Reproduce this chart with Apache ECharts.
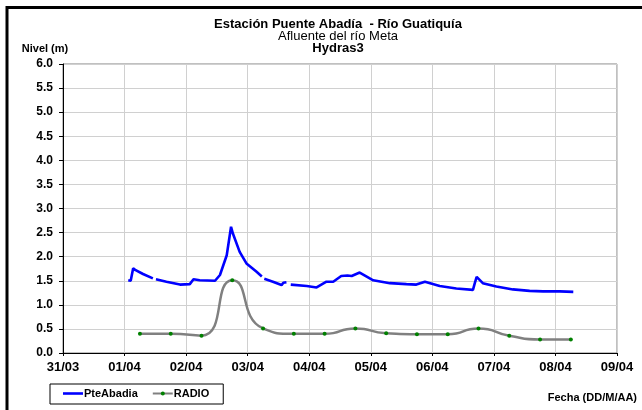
<!DOCTYPE html>
<html><head><meta charset="utf-8">
<script src="https://cdn.jsdelivr.net/npm/echarts@6/dist/echarts.min.js"></script>
<style>html,body{margin:0;padding:0;background:#fff}#c{width:642px;height:410px}</style>
</head><body><div id="c"></div>
<script>
const titleLines = ['Estación Puente Abadía  - Río Guatiquía', 'Afluente del río Meta', 'Hydras3'];
const yAxisName = 'Nivel (m)';
const xAxisName = 'Fecha (DD/M/AA)';
const dateLabels = ['31/03','01/04','02/04','03/04','04/04','05/04','06/04','07/04','08/04','09/04'];
const seriesNames = ['PteAbadia', 'RADIO'];
// days counted from 31/03 00:00 ; null = gap in the record
const pteDays = [1.06,1.10,1.12,1.14,1.18,1.30,1.46,null,1.51,1.68,1.90,2.06,2.12,2.22,2.47,2.55,2.66,2.73,2.76,2.87,2.98,3.14,3.23,null,3.27,3.41,3.55,3.58,3.63,null,3.70,3.96,4.12,4.28,4.39,4.52,4.62,4.69,4.82,5.04,5.31,5.58,5.74,5.88,6.12,6.39,6.66,6.69,6.72,6.82,7.04,7.31,7.58,7.80,8.07,8.29];
const pteLevels = [1.51,1.50,1.48,1.76,1.72,1.64,1.55,null,1.53,1.48,1.42,1.43,1.53,1.51,1.50,1.62,2.03,2.62,2.48,2.10,1.86,1.69,1.59,null,1.54,1.48,1.41,1.46,1.47,null,1.42,1.39,1.36,1.48,1.48,1.60,1.61,1.60,1.67,1.51,1.45,1.43,1.42,1.48,1.39,1.34,1.31,1.45,1.58,1.45,1.38,1.32,1.29,1.28,1.28,1.27];
const radioDays = [1.25,1.75,2.25,2.75,3.25,3.75,4.25,4.75,5.25,5.75,6.25,6.75,7.25,7.75,8.25];
const radioLevels = [0.40,0.40,0.36,1.51,0.51,0.40,0.40,0.51,0.41,0.39,0.39,0.51,0.36,0.28,0.28];

const FONT = "'Liberation Sans', Arial, sans-serif";
const pteData = pteDays.map((d, i) => d === null ? [null, null] : [d, pteLevels[i]]);
const radioData = radioDays.map((d, i) => [d, radioLevels[i]]);

const chart = echarts.init(document.getElementById('c'), null, {renderer: 'canvas'});
chart.setOption({
  animation: false,
  backgroundColor: '#fff',
  grid: {left: 63, top: 64, right: 25, bottom: 57, show: true, borderColor: '#808080', borderWidth: 1, backgroundColor: '#fff'},
  graphic: [
    {type: 'rect', shape: {x: 7, y: 7.5, width: 800, height: 600}, style: {fill: 'none', stroke: '#000', lineWidth: 3}, z: 100},
    {type: 'text', x: 338, y: 24, style: {text: titleLines[0], font: 'bold 13px ' + FONT, fill: '#000', textAlign: 'center', textVerticalAlign: 'middle'}},
    {type: 'text', x: 338, y: 36, style: {text: titleLines[1], font: '13px ' + FONT, fill: '#000', textAlign: 'center', textVerticalAlign: 'middle'}},
    {type: 'text', x: 338, y: 48, style: {text: titleLines[2], font: 'bold 13px ' + FONT, fill: '#000', textAlign: 'center', textVerticalAlign: 'middle'}},
    {type: 'text', x: 45, y: 49, style: {text: yAxisName, font: 'bold 11px ' + FONT, fill: '#000', textAlign: 'center', textVerticalAlign: 'middle'}},
    {type: 'text', x: 637, y: 398, style: {text: xAxisName, font: 'bold 11px ' + FONT, fill: '#000', textAlign: 'right', textVerticalAlign: 'middle'}}
  ],
  legend: {
    left: 50, top: 384, orient: 'horizontal',
    borderColor: '#000', borderWidth: 1, padding: [4, 14, 5, 13], itemGap: 14,
    itemWidth: 20, itemHeight: 5,
    textStyle: {fontFamily: FONT, fontWeight: 'bold', fontSize: 11, color: '#000', padding: [0, 0, 0, -4]},
    data: [
      {name: seriesNames[0], icon: 'path://M0,0H20V2.6H0Z'},
      {name: seriesNames[1]}
    ]
  },
  xAxis: {
    type: 'value', min: 0, max: 9, interval: 1,
    axisLine: {onZero: false, lineStyle: {color: '#000', width: 1}},
    axisTick: {show: true, length: 3, lineStyle: {color: '#000'}},
    axisLabel: {margin: 8, fontFamily: FONT, fontWeight: 'bold', fontSize: 13, color: '#000', formatter: v => dateLabels[Math.round(v)]},
    splitLine: {show: true, lineStyle: {color: '#d0d0d0', width: 1}}
  },
  yAxis: {
    type: 'value', min: 0, max: 6, interval: 0.5,
    axisLine: {show: true, lineStyle: {color: '#000', width: 1}},
    axisTick: {show: true, length: 4, lineStyle: {color: '#000'}},
    axisLabel: {margin: 10, fontFamily: FONT, fontWeight: 'bold', fontSize: 12, color: '#000', formatter: v => v.toFixed(1)},
    splitLine: {show: true, lineStyle: {color: '#d0d0d0', width: 1}}
  },
  series: [
    {
      name: seriesNames[0], type: 'line', data: pteData, showSymbol: false, symbol: 'none',
      connectNulls: false, lineStyle: {color: '#0000ff', width: 2.6}, itemStyle: {color: '#0000ff'}, z: 3
    },
    {
      name: seriesNames[1], type: 'line', data: radioData, smooth: 0.6, symbol: 'circle', symbolSize: 4,
      lineStyle: {color: '#808080', width: 2.5}, itemStyle: {color: '#008000', borderWidth: 0}, z: 2
    }
  ]
});
</script>
</body></html>
